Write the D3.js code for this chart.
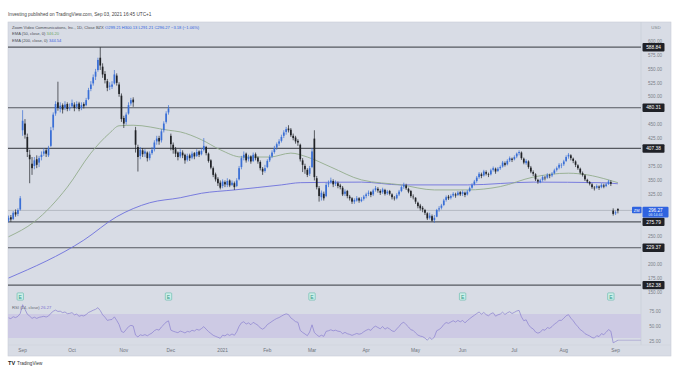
<!DOCTYPE html>
<html><head><meta charset="utf-8">
<script src="https://cdn.jsdelivr.net/npm/d3@7"></script>
<style>body{margin:0;background:#fff;}svg{display:block;font-family:"Liberation Sans",Arial,sans-serif;}</style>
</head><body><svg id="c" width="676" height="370"></svg>
<script>
// ---------- data ----------
const holidays = ["2020-09-07","2020-11-26","2020-12-25","2021-01-01","2021-01-18","2021-02-15","2021-04-02","2021-05-31","2021-07-05"];
const opens = [
278,284,281,293,290,298,440,452,428,396,
380,376,388,382,392,398,404,395,412,445,
470,490,478,485,480,487,479,483,486,482,
488,480,487,485,496,514,524,536,548,570,
554,541,528,518,518,524,538,522,502,462,
455,470,488,495,440,410,394,404,398,400,
390,399,406,420,426,422,440,455,472,430,
414,406,400,393,400,396,387,395,391,399,
394,402,397,405,410,398,386,372,361,353,
346,340,347,342,350,342,345,340,352,374,
391,398,388,393,385,397,391,383,371,367,
374,386,393,401,409,416,421,430,437,443,
441,430,427,421,414,386,376,369,362,374,
425,354,336,320,326,322,343,347,349,344,
345,341,337,326,331,321,318,312,314,318,
313,317,322,326,329,325,333,335,331,329,
333,327,331,325,319,318,325,331,339,341,
335,331,321,319,310,305,301,297,291,283,
286,279,285,298,301,306,315,321,319,323,
325,324,329,326,328,325,331,337,343,349,
356,361,359,365,361,361,369,371,367,372,
375,381,379,386,389,388,393,399,400,389,
381,384,373,365,361,351,347,351,355,355,
359,359,363,369,373,377,379,385,393,395,
389,384,377,371,363,359,351,347,343,337,
337,339,338,341,340,344,347,296,291,299];
const highs = [
287,288,295,298,300,322,476,460,434,405,
392,392,395,394,402,408,408,412,446,472,
492,527,490,488,492,490,488,495,490,492,
491,490,490,498,516,528,540,550,570,588.84,
560,546,532,526,528,548,542,526,506,466,
472,490,498,499,446,414,410,408,406,402,
402,410,422,430,430,442,456,474,485,434,
418,410,402,406,404,398,398,398,402,401,
406,404,408,426,412,400,388,375,364,356,
350,352,350,354,352,350,348,354,376,394,
402,400,396,395,400,400,393,386,374,378,
388,396,404,412,418,424,432,440,446,449,
444,434,430,424,416,390,380,372,376,408,
440,358,340,332,330,346,350,355,352,350,
348,344,340,334,333,324,320,318,322,320,
320,324,328,332,331,335,340,338,334,337,
335,333,333,327,322,327,333,341,346,344,
337,333,325,320,312,308,304,299,293,292,
289,288,299,304,308,317,323,324,325,329,
328,331,331,332,330,333,339,345,351,358,
365,364,369,368,364,371,375,373,374,377,
385,384,388,393,391,395,400,404,402,391,
388,386,376,368,363,353,353,359,358,363,
362,365,371,375,381,381,387,395,399,397,
391,386,379,373,366,361,353,349,345,340,
343,341,345,344,346,351,350,300,296,300];
const lows = [
275,276,279,285,286,296,430,425,392,345,
360,370,372,374,386,394,392,392,410,440,
466,475,472,470,476,474,475,480,474,478,
474,476,479,483,494,510,520,530,545,548,
534,524,510,512,514,522,520,500,455,444,
450,468,484,482,400,366,388,392,392,384,
386,396,402,414,414,418,436,452,468,404,
398,392,386,390,390,380,384,385,388,388,
392,392,395,402,395,382,370,356,348,340,
334,336,338,338,338,340,333,338,350,370,
386,382,384,380,383,386,380,368,360,364,
372,383,390,398,405,412,418,426,432,436,
428,422,416,412,384,365,362,356,358,372,
350,334,312,314,314,320,338,344,338,340,
336,334,322,322,318,314,308,308,312,310,
311,314,318,322,320,322,330,328,324,326,
323,324,323,316,314,316,322,329,335,333,
327,319,316,308,300,296,293,288,279,280,
276,274,284,294,298,304,312,315,316,320,
319,322,322,322,320,323,329,335,341,346,
353,354,357,359,356,359,366,362,365,369,
373,375,377,383,383,386,390,395,387,379,
378,371,363,358,349,344,345,348,350,353,
354,356,361,366,370,372,376,383,389,386,
381,374,369,361,357,349,345,341,335,332,
335,333,336,336,338,342,340,287,288,291];
const closes = [
283,280,292,289,297,318,457,432,401,388,
372,386,378,390,396,402,398,408,440,468,
487,480,484,477,486,478,481,489,480,487,
478,485,483,494,512,522,535,545,566,556,
540,530,516,520,522,540,525,505,460,452,
468,485,494,490,414,392,405,397,402,390,
398,405,418,425,420,438,452,470,479,415,
405,398,392,401,395,386,394,390,398,393,
401,396,403,412,399,385,373,360,352,345,
337,348,343,349,341,346,338,350,372,390,
396,386,392,384,396,390,384,372,366,372,
385,392,400,408,415,420,428,436,442,440,
431,426,420,418,388,378,370,360,372,402,
356,338,322,328,318,342,345,350,343,346,
340,338,325,330,322,318,312,315,318,314,
316,321,325,328,324,332,336,332,328,334,
326,330,326,320,318,324,330,338,342,336,
330,322,320,312,304,300,298,292,282,287,
278,283,297,300,305,314,320,318,322,326,
323,328,325,329,324,330,336,342,348,355,
362,358,366,362,360,368,372,366,371,374,
382,378,385,390,387,392,398,401,390,382,
385,374,366,362,352,348,350,356,354,360,
358,362,368,372,378,378,384,392,396,390,
385,378,372,364,360,352,348,344,338,336,
340,337,342,339,343,348,344,290,293,296];
// EMA values (bar index, value)
const ema50Idx = [0,11,25,35,43,47,53,68,73,82,90,99,111,120,127,137,150,167,181,195,209,223,238,246,255,259];
const ema50Val = [249,276,338,399,435,448,449,440,437,423,405,392,392,399,392,374,351,342,333,333,339,356,363,360,351,346];
const ema200Idx = [0,32,46,60,73,82,96,116,124,150,167,195,223,252,259];
const ema200Val = [175,243,285,310,319,327,333,342,346,347,342,342,347,346,344];
const levels = [588.84,480.31,407.38,275.79,229.37,162.38];
const lastPrice = 296.27;
const earnings = ["2020-08-31","2020-11-30","2021-03-01","2021-06-01","2021-08-30"];
const priceTicks = [150,175,200,225,250,275,300,325,350,375,400,425,450,475,500,525,550,575,600];
const rsiTicks = [25,50,75];
const timeTickLabels = ["Sep","Oct","Nov","Dec","2021","Feb","Mar","Apr","May","Jun","Jul","Aug","Sep"];
const rsiSeed = [7,4];

// ---------- dates ----------
const dates=[];
for(let t=Date.UTC(2020,7,24); t<=Date.UTC(2021,8,2); t+=864e5){
  const d=new Date(t), wd=d.getUTCDay(), s=d.toISOString().slice(0,10);
  if(wd>0&&wd<6&&!holidays.includes(s)) dates.push(s);
}
const N = closes.length;

// ---------- layout ----------
const svg=d3.select("#c");
const L=8, R=641, AXR=671, PT=22, PB=301, RB=345, TB=356;
const x=d3.scaleLinear().domain([0,259]).range([8.5,617.9]);
const y=d3.scaleLinear().domain([150,600]).range([292,41]);
const yR=d3.scaleLinear().domain([30,70]).range([338,314]);

svg.append("rect").attr("x",L).attr("y",PT).attr("width",AXR-L).attr("height",TB-PT).attr("fill","#d8dce5").attr("stroke","#c9cdd6").attr("stroke-width",0.6);
svg.append("line").attr("x1",R).attr("x2",R).attr("y1",PT).attr("y2",RB).attr("stroke","#c8ccd5").attr("stroke-width",0.6);
svg.append("line").attr("x1",L).attr("x2",AXR).attr("y1",RB).attr("y2",RB).attr("stroke","#cdd1da").attr("stroke-width",0.5);

const defs=svg.append("defs");
defs.append("clipPath").attr("id","cp").append("rect").attr("x",L).attr("y",PT).attr("width",R-L).attr("height",PB-PT);
defs.append("clipPath").attr("id","cr").append("rect").attr("x",L).attr("y",PB+1).attr("width",R-L).attr("height",RB-PB-1);

// ---------- price pane ----------
const gp=svg.append("g").attr("clip-path","url(#cp)");
gp.append("line").attr("x1",L).attr("x2",R).attr("y1",y(lastPrice)).attr("y2",y(lastPrice)).attr("stroke","#9ea3ad").attr("stroke-width",0.6);
gp.selectAll("line.lv").data(levels).join("line").attr("class","lv")
  .attr("x1",L).attr("x2",R).attr("y1",d=>y(d)).attr("y2",d=>y(d)).attr("stroke","#55585f").attr("stroke-width",1.2);

const ema=(idx,val)=>d3.line().x((d,i)=>x(idx[i])).y(d=>y(d)).curve(d3.curveMonotoneX)(val);
gp.append("path").attr("d",ema(ema200Idx,ema200Val)).attr("fill","none").attr("stroke","#6d70dc").attr("stroke-width",0.9);
gp.append("path").attr("d",ema(ema50Idx,ema50Val)).attr("fill","none").attr("stroke","#93ad8c").attr("stroke-width",0.9);

const idx=d3.range(N);
const col=i=>closes[i]>=opens[i]?"#3a6fd6":"#202226";
gp.selectAll("line.wk").data(idx).join("line").attr("class","wk")
  .attr("x1",i=>x(i)).attr("x2",i=>x(i)).attr("y1",i=>y(highs[i])).attr("y2",i=>y(lows[i]))
  .attr("stroke",col).attr("stroke-width",0.7);
gp.selectAll("rect.bd").data(idx).join("rect").attr("class","bd")
  .attr("x",i=>x(i)-0.85).attr("width",1.7)
  .attr("y",i=>y(Math.max(opens[i],closes[i])))
  .attr("height",i=>Math.max(0.6,Math.abs(y(opens[i])-y(closes[i]))))
  .attr("fill",col);

// earnings markers
earnings.forEach(e=>{
  const i=dates.indexOf(e); if(i<0) return;
  const g=svg.append("g").attr("transform",`translate(${x(i)},296.5)`);
  g.append("rect").attr("x",-3.2).attr("y",-3.6).attr("width",6.4).attr("height",7.2).attr("rx",0.8)
    .attr("fill","#cdeee8").attr("stroke","#5cb8a8").attr("stroke-width",0.6);
  g.append("text").attr("text-anchor","middle").attr("y",2).attr("font-size",5).attr("fill","#2f9a88").text("E");
});

// ---------- price axis ----------
const boxYs = levels.map(v=>y(v)).concat([y(lastPrice)+1.8]);
const visTicks = priceTicks.filter(t=>boxYs.every(b=>Math.abs(y(t)-b)>6.2));
svg.selectAll("text.pt").data(visTicks).join("text").attr("class","pt")
  .attr("x",655).attr("y",d=>y(d)+1.7).attr("text-anchor","middle").attr("font-size",4.6).attr("fill","#7b7f88")
  .text(d=>d3.format(".2f")(d));
svg.append("text").attr("x",656).attr("y",29).attr("text-anchor","middle").attr("font-size",4.4).attr("fill","#7b7f88").text("USD");
levels.forEach(v=>{
  svg.append("rect").attr("x",642.5).attr("y",y(v)-4.2).attr("width",22).attr("height",8.4).attr("rx",1).attr("fill","#1f2127");
  svg.append("text").attr("x",653.5).attr("y",y(v)+1.7).attr("text-anchor","middle").attr("font-size",4.8).attr("fill","#fff").text(d3.format(".2f")(v));
});
const yl=y(lastPrice);
svg.append("rect").attr("x",632).attr("y",yl-3.6).attr("width",9.5).attr("height",6.5).attr("rx",0.8).attr("fill","#2f63e0");
svg.append("text").attr("x",636.7).attr("y",yl+1.2).attr("text-anchor","middle").attr("font-size",4).attr("fill","#fff").text("ZM");
svg.append("rect").attr("x",642.5).attr("y",yl-3.6).attr("width",26).attr("height",10.6).attr("rx",1).attr("fill","#2f63e0");
svg.append("text").attr("x",655.5).attr("y",yl+1.3).attr("text-anchor","middle").attr("font-size",4.6).attr("fill","#fff").text(d3.format(".2f")(lastPrice));
svg.append("text").attr("x",655.5).attr("y",yl+5.9).attr("text-anchor","middle").attr("font-size",3.6).attr("fill","#dfe7ff").text("06:14:44");

// ---------- RSI ----------
let ag=rsiSeed[0], al=rsiSeed[1];
const rsi=closes.map((c,i)=>{
  if(i>0){const ch=c-closes[i-1]; ag=(ag*13+Math.max(ch,0))/14; al=(al*13+Math.max(-ch,0))/14;}
  return 100-100/(1+ag/al);
});
const gr=svg.append("g").attr("clip-path","url(#cr)");
gr.append("rect").attr("x",L).attr("width",R-L).attr("y",yR(70)).attr("height",yR(30)-yR(70)).attr("fill","#cdcae4");
gr.append("path").attr("d",d3.line().x((d,i)=>x(i)).y(d=>yR(d))(rsi)).attr("fill","none").attr("stroke","#8a7fd0").attr("stroke-width",0.7);
gr.append("line").attr("x1",x(N-1)).attr("x2",R).attr("y1",yR(rsi[N-1])).attr("y2",yR(rsi[N-1])).attr("stroke","#9d97cf").attr("stroke-width",0.6);
svg.selectAll("text.rt").data(rsiTicks).join("text").attr("class","rt")
  .attr("x",655).attr("y",d=>yR(d)+1.7).attr("text-anchor","middle").attr("font-size",4.6).attr("fill","#7b7f88").text(d=>d3.format(".2f")(d));
const rl=svg.append("text").attr("x",12).attr("y",309).attr("font-size",4.2).attr("fill","#666a73");
rl.append("tspan").text("RSI (14, close)  ");
rl.append("tspan").attr("fill","#7c6fd0").text(d3.format(".2f")(rsi[N-1]));

// ---------- time axis ----------
const mStarts=[];
dates.forEach((d,i)=>{ if(i>0 && d.slice(5,7)!==dates[i-1].slice(5,7)) mStarts.push(i); });
svg.selectAll("text.tt").data(mStarts).join("text").attr("class","tt")
  .attr("x",i=>x(i)).attr("y",351.5).attr("text-anchor","middle").attr("font-size",4.8).attr("fill","#6e727b")
  .text((d,k)=>timeTickLabels[k]);

// ---------- header texts ----------
svg.append("text").attr("x",8).attr("y",16).attr("font-size",4.7).attr("fill","#444").text("Investing published on TradingView.com, Sep 03, 2021 16:45 UTC+1");
const h1=svg.append("text").attr("x",12).attr("y",28.5).attr("font-size",4.1).attr("fill","#4a4d55");
h1.append("tspan").text("Zoom Video Communications, Inc., 1D, Close BZX  ");
h1.append("tspan").attr("fill","#2f63e0").text("O299.21  H300.13  L291.21  C296.27  −3.18 (−1.06%)");
const h2=svg.append("text").attr("x",12).attr("y",35).attr("font-size",4.1).attr("fill","#4a4d55");
h2.append("tspan").text("EMA (50, close, 0)  "); h2.append("tspan").attr("fill","#6fa866").text("346.20");
const h3=svg.append("text").attr("x",12).attr("y",41.5).attr("font-size",4.1).attr("fill","#4a4d55");
h3.append("tspan").text("EMA (200, close, 0)  "); h3.append("tspan").attr("fill","#3d5fe0").text("344.54");

// logo
svg.append("text").attr("x",8).attr("y",364.5).attr("font-size",5.6).attr("font-weight","bold").attr("fill","#222").text("TV");
svg.append("text").attr("x",17).attr("y",364.5).attr("font-size",4.6).attr("fill","#333").text("TradingView");
</script></body></html>
